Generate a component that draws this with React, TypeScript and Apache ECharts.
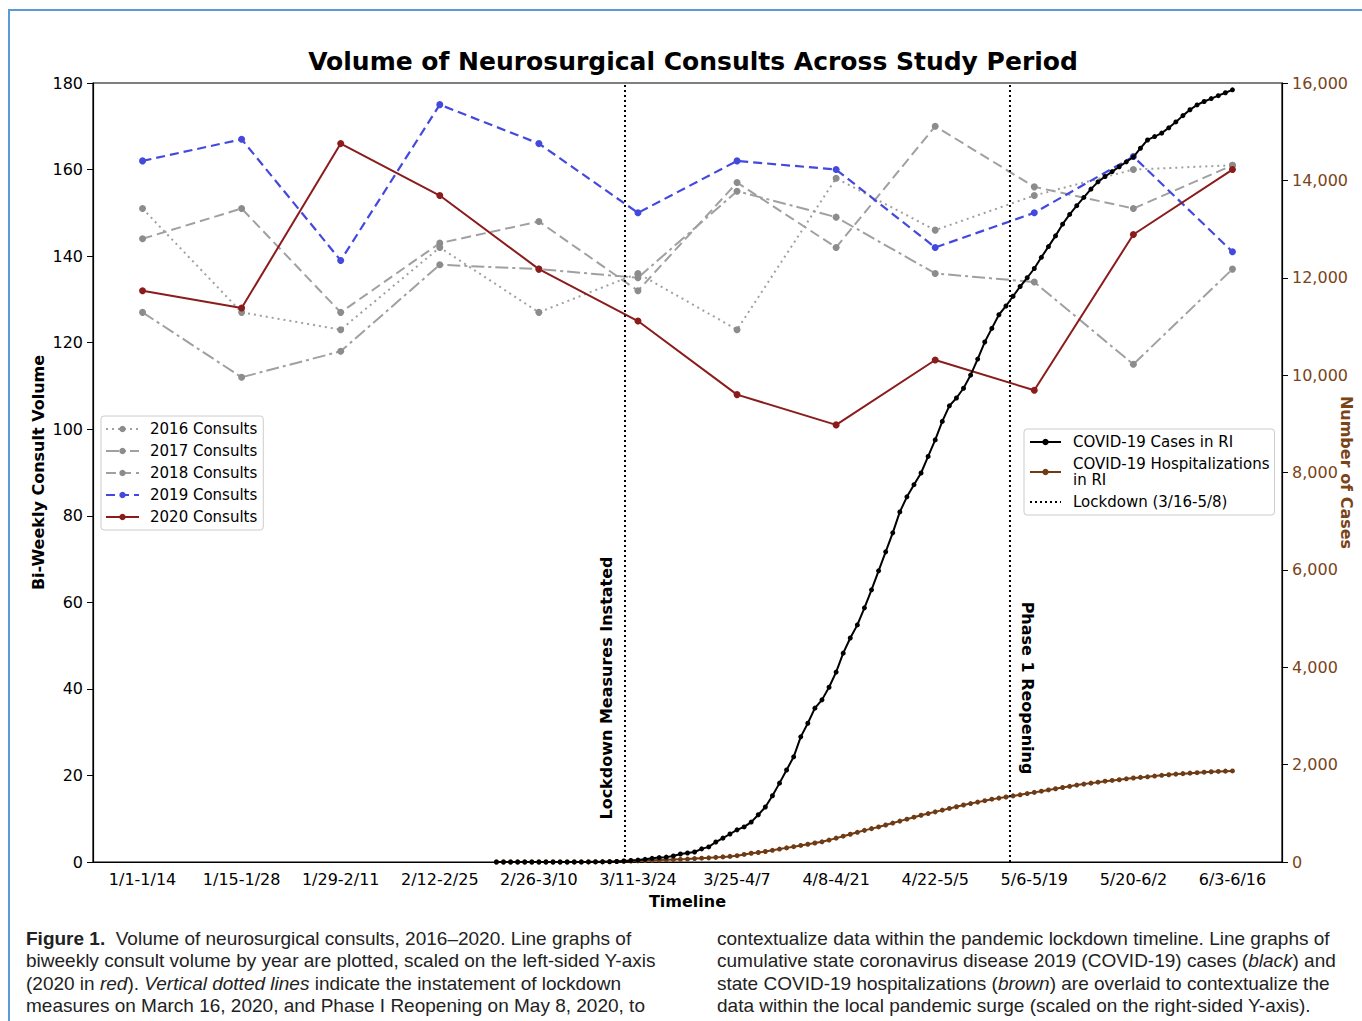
import React, { useEffect, useRef } from "react";
import * as echarts from "echarts";

const PERIODS = [
  "1/1-1/14", "1/15-1/28", "1/29-2/11", "2/12-2/25", "2/26-3/10", "3/11-3/24",
  "3/25-4/7", "4/8-4/21", "4/22-5/5", "5/6-5/19", "5/20-6/2", "6/3-6/16",
];

const CONSULTS_2016 = [151, 127, 123, 142, 127, 136, 123, 158, 146, 154, 160, 161];
const CONSULTS_2017 = [127, 112, 118, 138, 137, 135, 155, 149, 136, 134, 115, 137];
const CONSULTS_2018 = [144, 151, 127, 143, 148, 132, 157, 142, 170, 156, 151, 161];
const CONSULTS_2019 = [162, 167, 139, 175, 166, 150, 162, 160, 142, 150, 163, 141];
const CONSULTS_2020 = [132, 128, 166, 154, 137, 125, 108, 101, 116, 109, 145, 160];

// cumulative daily COVID-19 cases in RI (right axis)
const COVID_CASES = [
  0, 0, 0, 0, 0, 0, 0, 0, 0, 0,
  0, 0, 0, 2, 2, 3, 5, 10,
  20, 30, 40, 55, 75, 90, 100, 125, 165, 185,
  205, 270, 310, 410, 490, 575, 660, 720, 820, 970,
  1130, 1360, 1620, 1890, 2160, 2570, 2850, 3160, 3330, 3590,
  3900, 4290, 4600, 4870, 5220, 5590, 5980, 6370, 6760, 7190,
  7500, 7750, 7990, 8330, 8670, 9050, 9370, 9530, 9730, 10000,
  10330, 10680, 10960, 11240, 11420, 11620, 11820, 12000, 12190, 12420,
  12640, 12860, 13100, 13300, 13480, 13650, 13820, 13970, 14080, 14180,
  14280, 14380, 14480, 14660, 14830, 14900, 14970, 15080, 15200, 15330,
  15450, 15550, 15620, 15680, 15740, 15800, 15860,
];

// cumulative daily COVID-19 hospitalizations in RI (right axis)
const COVID_HOSP = [
  0, 0, 0, 0, 0, 0, 0, 0, 0, 0,
  0, 1, 2, 3, 5, 7, 9, 12,
  15, 20, 25, 30, 35, 40, 45, 50, 55, 60,
  70, 78, 85, 95, 105, 115, 130, 155, 180, 195,
  215, 240, 265, 290, 315, 340, 365, 390, 415, 450,
  490, 530, 570, 610, 650, 685, 720, 760, 800, 840,
  880, 920, 960, 995, 1030, 1065, 1100, 1135, 1170, 1200,
  1230, 1260, 1290, 1312, 1335, 1358, 1380, 1405, 1430, 1455,
  1480, 1505, 1530, 1555, 1580, 1600, 1620, 1640, 1660, 1675,
  1690, 1708, 1725, 1738, 1750, 1765, 1780, 1792, 1805, 1815,
  1825, 1835, 1845, 1853, 1860, 1866, 1870,
];

const DAYS_PER_PERIOD = 14;
const LAST_PERIOD_INDEX = 11;
// axis position of the two events (3/16 lockdown, 5/8 phase 1 reopening)
const EVENT_POSITIONS = [4.87, 8.75];

const LEFT_TICKS = { min: 0, max: 180, interval: 20 };
const RIGHT_TICKS = { min: 0, max: 16000, interval: 2000 };

const FONT = "DejaVu Sans";
const CAP_FONT = "Liberation Sans";
const CAP_SIZE = 19;
const GRAY_LINE = "#a0a0a0";
const GRAY_DOT = "#8c8c8c";
const BLUE = "#4349dd";
const RED = "#8b1c1c";
const BROWN = "#6e3b15";
const BROWN_TEXT = "#7a4419";

const CASES_NAME = "COVID-19 Cases in RI";
const HOSP_NAME = "COVID-19 Hospitalizations in RI";
const LOCK_NAME = "Lockdown (3/16-5/8)";

function dailyPairs(values: number[]) {
  const n = values.length;
  return values.map((v, i) => [LAST_PERIOD_INDEX - (n - 1 - i) / DAYS_PER_PERIOD, v]);
}

function consult(name: string, data: number[], color: string, marker: string, dash: any, width: number) {
  return {
    name,
    type: "line",
    xAxisIndex: 0,
    yAxisIndex: 0,
    data,
    symbol: "circle",
    symbolSize: 7,
    lineStyle: { color, width, type: dash },
    itemStyle: { color: marker },
    z: 3,
  };
}

export default function App() {
  const ref = useRef<HTMLDivElement>(null);
  useEffect(() => {
    const chart = echarts.init(ref.current!, null, { renderer: "svg" });
    const capStyle = (text: string) => ({
      text,
      fontFamily: CAP_FONT,
      fontSize: CAP_SIZE,
      fill: "#222",
      verticalAlign: "middle",
      rich: {
        b: { fontFamily: CAP_FONT, fontSize: CAP_SIZE, fontWeight: "bold", fill: "#222" },
        i: { fontFamily: CAP_FONT, fontSize: CAP_SIZE, fontStyle: "italic", fill: "#222" },
      },
    });
    const capLeft = [
      "{b|Figure 1.}  Volume of neurosurgical consults, 2016\u20132020. Line graphs of",
      "biweekly consult volume by year are plotted, scaled on the left-sided Y-axis",
      "(2020 in {i|red}). {i|Vertical dotted lines} indicate the instatement of lockdown",
      "measures on March 16, 2020, and Phase I Reopening on May 8, 2020, to",
    ];
    const capRight = [
      "contextualize data within the pandemic lockdown timeline. Line graphs of",
      "cumulative state coronavirus disease 2019 (COVID-19) cases ({i|black}) and",
      "state COVID-19 hospitalizations ({i|brown}) are overlaid to contextualize the",
      "data within the local pandemic surge (scaled on the right-sided Y-axis).",
    ];
    const lineYs = [938, 960.5, 983, 1005.5];
    const graphic: any[] = [
      {
        type: "polyline",
        shape: { points: [[9, 1021], [9, 10], [1362, 10]] },
        style: { stroke: "#5b9bd5", lineWidth: 2, fill: "none" },
        silent: true,
      },
      {
        type: "text",
        x: 606,
        y: 688,
        rotation: Math.PI / 2,
        style: {
          text: "Lockdown Measures Instated",
          fontFamily: FONT,
          fontSize: 16,
          fontWeight: "bold",
          fill: "#000",
          align: "center",
          verticalAlign: "middle",
        },
      },
      {
        type: "text",
        x: 1027,
        y: 688,
        rotation: -Math.PI / 2,
        style: {
          text: "Phase 1 Reopening",
          fontFamily: FONT,
          fontSize: 16,
          fontWeight: "bold",
          fill: "#000",
          align: "center",
          verticalAlign: "middle",
        },
      },
    ];
    capLeft.forEach((t, i) => graphic.push({ type: "text", x: 26, y: lineYs[i], style: capStyle(t) }));
    capRight.forEach((t, i) => graphic.push({ type: "text", x: 717, y: lineYs[i], style: capStyle(t) }));

    const option: any = {
      animation: false,
      backgroundColor: "#fff",
      title: {
        text: "Volume of Neurosurgical Consults Across Study Period",
        left: 688,
        top: 44,
        textAlign: "center",
        textStyle: { fontFamily: FONT, fontSize: 25, fontWeight: "bold", color: "#000" },
      },
      grid: {
        left: 93,
        right: 80,
        top: 83,
        bottom: 159,
        containLabel: false,
        outerBoundsMode: "none",
        show: true,
        borderColor: "#000",
        borderWidth: 1.2,
        backgroundColor: "transparent",
      },
      legend: [
        {
          data: ["2016 Consults", "2017 Consults", "2018 Consults", "2019 Consults", "2020 Consults"],
          orient: "vertical",
          left: 101,
          top: 416,
          padding: [5, 6, 5, 4],
          itemGap: 6,
          itemWidth: 33,
          itemHeight: 8,
          borderColor: "#cccccc",
          borderWidth: 1,
          borderRadius: 3,
          backgroundColor: "#fff",
          textStyle: { fontFamily: FONT, fontSize: 15, lineHeight: 16, color: "#000", padding: [0, 0, 0, 6] },
        },
        {
          data: [CASES_NAME, HOSP_NAME, { name: LOCK_NAME, itemStyle: { opacity: 0 } }],
          orient: "vertical",
          left: 1024,
          top: 429,
          padding: [5, 5, 5, 5],
          itemGap: 6,
          itemWidth: 31,
          itemHeight: 8,
          borderColor: "#cccccc",
          borderWidth: 1,
          borderRadius: 3,
          backgroundColor: "#fff",
          formatter: (n: string) => (n === HOSP_NAME ? "COVID-19 Hospitalizations\nin RI" : n),
          textStyle: { fontFamily: FONT, fontSize: 15, lineHeight: 16, color: "#000", padding: [0, 0, 0, 7] },
        },
      ],
      xAxis: [
        {
          type: "category",
          data: PERIODS,
          boundaryGap: true,
          name: "Timeline",
          nameLocation: "middle",
          nameGap: 31,
          nameMoveOverlap: false,
          nameTextStyle: { fontFamily: FONT, fontSize: 16, fontWeight: "bold", color: "#000" },
          axisLine: { onZero: false, lineStyle: { color: "#000", width: 1.2 } },
          axisTick: { alignWithLabel: true, length: 6, lineStyle: { color: "#000" } },
          axisLabel: { fontFamily: FONT, fontSize: 16, color: "#000", margin: 9, interval: 0 },
          splitLine: { show: false },
        },
        {
          type: "value",
          min: -0.5,
          max: 11.5,
          show: false,
          axisLine: { onZero: false },
          splitLine: { show: false },
        },
      ],
      yAxis: [
        {
          type: "value",
          position: "left",
          ...LEFT_TICKS,
          name: "Bi-Weekly Consult Volume",
          nameLocation: "middle",
          nameGap: 47,
          nameMoveOverlap: false,
          nameTextStyle: { fontFamily: FONT, fontSize: 16, fontWeight: "bold", color: "#000" },
          axisLine: { show: true, onZero: false, lineStyle: { color: "#000", width: 1.2 } },
          axisTick: { show: true, length: 6, lineStyle: { color: "#000" } },
          axisLabel: { fontFamily: FONT, fontSize: 16, color: "#000", margin: 10 },
          splitLine: { show: false },
        },
        {
          type: "value",
          position: "right",
          ...RIGHT_TICKS,
          name: "Number of Cases",
          nameLocation: "middle",
          nameGap: 56,
          nameRotate: -90,
          nameMoveOverlap: false,
          nameTextStyle: { fontFamily: FONT, fontSize: 16, fontWeight: "bold", color: BROWN_TEXT },
          axisLine: { show: true, onZero: false, lineStyle: { color: "#000", width: 1.2 } },
          axisTick: { show: true, length: 6, lineStyle: { color: "#000" } },
          axisLabel: {
            fontFamily: FONT,
            fontSize: 16,
            color: BROWN_TEXT,
            margin: 10,
            formatter: (v: number) => v.toLocaleString("en-US"),
          },
          splitLine: { show: false },
        },
      ],
      series: [
        consult("2016 Consults", CONSULTS_2016, GRAY_LINE, GRAY_DOT, [2, 4], 2),
        consult("2017 Consults", CONSULTS_2017, GRAY_LINE, GRAY_DOT, [13, 4, 3, 4], 2),
        consult("2018 Consults", CONSULTS_2018, GRAY_LINE, GRAY_DOT, [10, 5], 2),
        consult("2019 Consults", CONSULTS_2019, BLUE, BLUE, [9, 5], 2.2),
        consult("2020 Consults", CONSULTS_2020, RED, RED, "solid", 2),
        {
          name: LOCK_NAME,
          type: "line",
          xAxisIndex: 1,
          yAxisIndex: 1,
          data: [],
          symbol: "none",
          lineStyle: { color: "#000", width: 2, type: [2, 3] },
          itemStyle: { color: "rgba(0,0,0,0)" },
          markLine: {
            silent: true,
            symbol: "none",
            label: { show: false },
            lineStyle: { color: "#000", width: 2, type: [2, 3] },
            data: EVENT_POSITIONS.map((x) => ({ xAxis: x })),
          },
        },
        {
          name: HOSP_NAME,
          type: "line",
          xAxisIndex: 1,
          yAxisIndex: 1,
          data: dailyPairs(COVID_HOSP),
          symbol: "circle",
          symbolSize: 5,
          lineStyle: { color: BROWN, width: 2 },
          itemStyle: { color: BROWN },
          z: 4,
        },
        {
          name: CASES_NAME,
          type: "line",
          xAxisIndex: 1,
          yAxisIndex: 1,
          data: dailyPairs(COVID_CASES),
          symbol: "circle",
          symbolSize: 5,
          lineStyle: { color: "#000", width: 2 },
          itemStyle: { color: "#000" },
          z: 5,
        },
      ],
      graphic,
    };
    chart.setOption(option);
    return () => chart.dispose();
  }, []);
  return (
    <div
      ref={ref}
      style={{ position: "absolute", left: 0, top: 0, width: 1362, height: 1021, background: "#fff" }}
    />
  );
}
